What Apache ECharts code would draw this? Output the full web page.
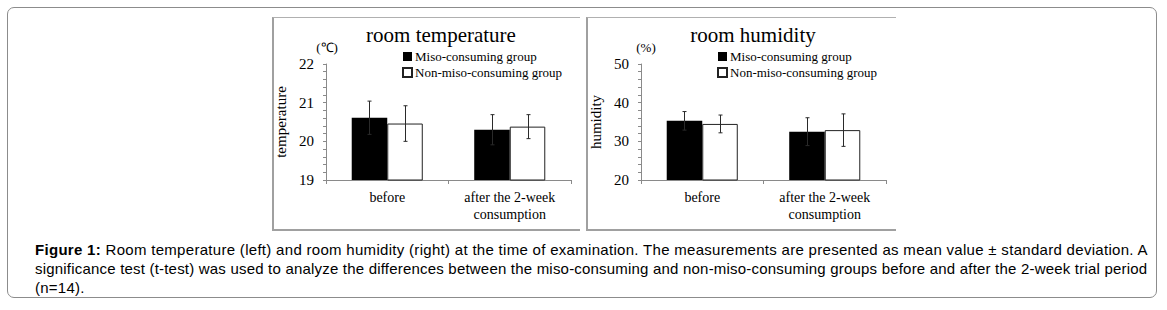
<!DOCTYPE html>
<html>
<head>
<meta charset="utf-8">
<script src="https://cdn.jsdelivr.net/npm/echarts@6/dist/echarts.min.js"></script>
<style>
  html, body { margin: 0; padding: 0; background: #fff; }
  body { width: 1167px; height: 310px; position: relative; overflow: hidden; }
  #outer { position: absolute; left: 7px; top: 7px; width: 1150px; height: 291px;
           border: 1px solid #8c8c8c; border-radius: 7px; box-sizing: border-box; }
  .panel { position: absolute; top: 17px; height: 214px; box-sizing: border-box;
           border-top: 1px solid #b0b0b0; border-left: 2px solid #a0a0a0; border-bottom: 2px solid #a0a0a0; }
  #p1 { left: 272px; width: 308px; }
  #p2 { left: 586px; width: 310px; }
  #chart { position: absolute; left: 0; top: 0; width: 1167px; height: 240px; }
  #caption { position: absolute; left: 35px; top: 240px; font-family: "Liberation Sans", Arial, sans-serif;
             font-size: 15px; line-height: 19px; color: #000; }
  #caption div { white-space: nowrap; }
  #caption .l1 { letter-spacing: 0.3px; }
  #caption .l2 { letter-spacing: 0.2px; }
  #caption .l3 { letter-spacing: 0.25px; }
</style>
</head>
<body>
<div id="outer"></div>
<div class="panel" id="p1"></div>
<div class="panel" id="p2"></div>
<div id="chart"></div>
<div id="caption">
  <div class="l1"><b>Figure 1:</b> Room temperature (left) and room humidity (right) at the time of examination. The measurements are presented as mean value ± standard deviation. A</div>
  <div class="l2">significance test (t-test) was used to analyze the differences between the miso-consuming and non-miso-consuming groups before and after the 2-week trial period</div>
  <div class="l3">(n=14).</div>
</div>
<script>
// ---- data ----
const categories = ['before', 'after the 2-week\nconsumption'];
const seriesNames = ['Miso-consuming group', 'Non-miso-consuming group'];
const tempMiso = [20.61, 20.30];
const tempMisoSD = [0.43, 0.39];
const tempNon = [20.46, 20.38];
const tempNonSD = [0.46, 0.31];
const humMiso = [35.3, 32.5];
const humMisoSD = [2.4, 3.6];
const humNon = [34.5, 32.9];
const humNonSD = [2.3, 4.2];
const tempTicks = { min: 19, max: 22, interval: 1 };
const humTicks = { min: 20, max: 50, interval: 10 };

const serif = '"Liberation Serif", "Times New Roman", serif';
const BARW = 0.29;

function errData(means, sds, sign) {
  return means.map((m, i) => [i, m, sds[i], sign]);
}
function errSeries(axisIdx, means, sds, sign) {
  return {
    type: 'custom', xAxisIndex: axisIdx, yAxisIndex: axisIdx, z: 5, silent: true,
    data: errData(means, sds, sign),
    renderItem: function (params, api) {
      const idx = api.value(0), m = api.value(1), sd = api.value(2), s = api.value(3);
      const band = api.size([1, 0])[0];
      const c = api.coord([idx, m]);
      const x = Math.round(c[0] + s * band * BARW / 2) + 0.5;
      const top = api.coord([idx, m + sd])[1];
      const bot = api.coord([idx, m - sd])[1];
      const st = { stroke: '#2a2a2a', lineWidth: 1 };
      return { type: 'group', children: [
        { type: 'line', shape: { x1: x, y1: top, x2: x, y2: bot }, style: st },
        { type: 'line', shape: { x1: x - 2, y1: top, x2: x + 2, y2: top }, style: st },
        { type: 'line', shape: { x1: x - 2, y1: bot, x2: x + 2, y2: bot }, style: st }
      ]};
    }
  };
}
function barSeries(axisIdx, name, vals, black) {
  return {
    type: 'bar', name: name, xAxisIndex: axisIdx, yAxisIndex: axisIdx,
    data: vals, barWidth: (BARW * 100) + '%', barGap: '0%',
    itemStyle: black ? { color: '#000', borderColor: '#000', borderWidth: 0 }
                     : { color: '#fff', borderColor: '#222', borderWidth: 1 }
  };
}
function xAxis(gi) {
  return {
    type: 'category', gridIndex: gi, data: categories,
    axisLine: { lineStyle: { color: '#8a8a8a', width: 1 } },
    axisTick: { show: true, length: 4, lineStyle: { color: '#8a8a8a' } },
    axisLabel: { fontFamily: serif, fontSize: 14, color: '#000', margin: 9, lineHeight: 17 }
  };
}
function yAxis(gi, t, name) {
  return {
    type: 'value', gridIndex: gi, min: t.min, max: t.max, interval: t.interval,
    name: name, nameLocation: 'middle', nameRotate: 90, nameGap: 38,
    nameTextStyle: { fontFamily: serif, fontSize: 15, color: '#000' },
    axisLine: { show: true, lineStyle: { color: '#8a8a8a', width: 1 } },
    axisTick: { show: true, length: 3, lineStyle: { color: '#8a8a8a' } },
    minorTick: { show: true, splitNumber: 5, length: 3, lineStyle: { color: '#8a8a8a' } },
    splitLine: { show: false },
    axisLabel: { fontFamily: serif, fontSize: 15, color: '#000', margin: 12 }
  };
}
const legendCommon = {
  orient: 'vertical', itemWidth: 9, itemHeight: 9, itemGap: 3, icon: 'rect',
  data: seriesNames, selectedMode: false, padding: 0,
  textStyle: { fontFamily: serif, fontSize: 13, color: '#000', padding: [0, 0, 0, -2] }
};

const chart = echarts.init(document.getElementById('chart'), null, { renderer: 'svg' });
chart.setOption({
  animation: false,
  title: [
    { text: 'room temperature', left: 441, textAlign: 'center', top: 24, padding: 0,
      textStyle: { fontFamily: serif, fontSize: 21, fontWeight: 'normal', color: '#000' } },
    { text: 'room humidity', left: 753, textAlign: 'center', top: 24, padding: 0,
      textStyle: { fontFamily: serif, fontSize: 21, fontWeight: 'normal', color: '#000' } },
    { text: '(℃)', left: 327, textAlign: 'center', top: 41, padding: 0,
      textStyle: { fontFamily: serif, fontSize: 13, fontWeight: 'normal', color: '#000' } },
    { text: '(%)', left: 646, textAlign: 'center', top: 41, padding: 0,
      textStyle: { fontFamily: serif, fontSize: 13, fontWeight: 'normal', color: '#000' } }
  ],
  legend: [
    Object.assign({ left: 402, top: 50 }, legendCommon),
    Object.assign({ left: 717, top: 50 }, legendCommon)
  ],
  grid: [
    { left: 326, top: 64, width: 245, height: 116 },
    { left: 641, top: 64, width: 245, height: 116 }
  ],
  xAxis: [xAxis(0), xAxis(1)],
  yAxis: [yAxis(0, tempTicks, 'temperature'), yAxis(1, humTicks, 'humidity')],
  series: [
    barSeries(0, seriesNames[0], tempMiso, true),
    barSeries(0, seriesNames[1], tempNon, false),
    barSeries(1, seriesNames[0], humMiso, true),
    barSeries(1, seriesNames[1], humNon, false),
    errSeries(0, tempMiso, tempMisoSD, -1),
    errSeries(0, tempNon, tempNonSD, 1),
    errSeries(1, humMiso, humMisoSD, -1),
    errSeries(1, humNon, humNonSD, 1)
  ]
});
</script>
</body>
</html>
